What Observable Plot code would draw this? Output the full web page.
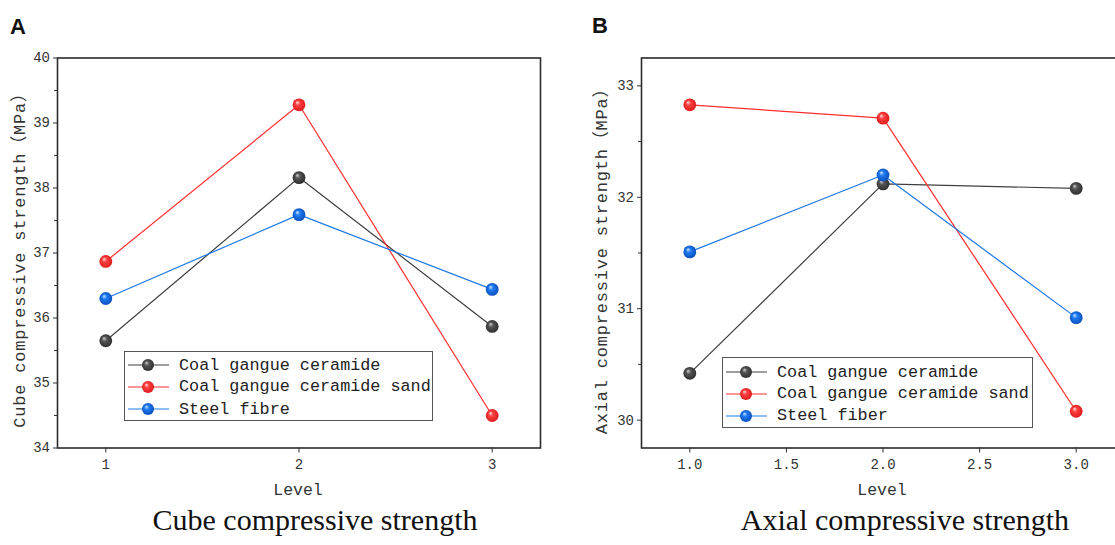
<!DOCTYPE html>
<html>
<head>
<meta charset="utf-8">
<script src="https://cdn.jsdelivr.net/npm/d3@7"></script>
<script src="https://cdn.jsdelivr.net/npm/@observablehq/plot@0.6"></script>
<style>
  html, body { margin: 0; padding: 0; background: #fff; overflow: hidden; }
  #wrap { position: relative; width: 1115px; height: 545px; overflow: hidden; background: #fff; }
  .tag { position: absolute; font-family: "Liberation Sans", Arial, sans-serif; font-weight: bold; font-size: 22px; color: #111; line-height: 1; }
  .cap { position: absolute; font-family: "Liberation Serif", "Times New Roman", serif; font-size: 30px; color: #111; line-height: 1; white-space: nowrap; transform: translateX(-50%); }
  .axlab { position: absolute; font-family: "Liberation Mono", "Noto Sans CJK SC", monospace; font-size: 16.5px; color: #333; line-height: 1; white-space: nowrap; }
  .ylab { font-size: 17px; letter-spacing: 0.8px; }
  .legend { position: absolute; border: 1px solid #555; background: #fff; font-family: "Liberation Mono", monospace; font-size: 16.8px; color: #222; box-sizing: border-box; }
  .legend .row { position: absolute; left: 0; height: 22px; display: flex; align-items: center; white-space: nowrap; }
  .legend svg { display: block; margin-left: 3px; }
  .legend span { margin-left: 9px; }
</style>
</head>
<body>
<div id="wrap"></div>
<script>
// ---------- data ----------
const levels = [1, 2, 3];
const seriesNames = ["Coal gangue ceramide", "Coal gangue ceramide sand"];
const steelNameA = "Steel fibre";
const steelNameB = "Steel fiber";

const cubeCeramide = [35.65, 38.16, 35.87];
const cubeSand     = [36.87, 39.28, 34.50];
const cubeSteel    = [36.30, 37.59, 36.44];

const axialCeramide = [30.42, 32.12, 32.08];
const axialSand     = [32.83, 32.71, 30.08];
const axialSteel    = [31.51, 32.20, 30.92];

const cubeYTicks = [34, 35, 36, 37, 38, 39, 40];
const axialYTicks = [30, 31, 32, 33];
const cubeXTicks = [1, 2, 3];
const axialXTicks = [1.0, 1.5, 2.0, 2.5, 3.0];

const titleA = "A", titleB = "B";
const captionA = "Cube compressive strength";
const captionB = "Axial compressive strength";
const yLabelA = "Cube compressive strength（MPa）";
const yLabelB = "Axial compressive strength（MPa）";
const xLabel = "Level";

// ---------- styling ----------
const lineColors = ["#3f3f3f", "#ff2d2d", "#1f78e6"];
const grads = [
  {id: "gBlack", stops: ["#d0d0d0", "#555555", "#2a2a2a"]},
  {id: "gRed",   stops: ["#ffe0e0", "#ff4040", "#d81818"]},
  {id: "gBlue",  stops: ["#cfe4ff", "#1f7cf0", "#0a4ab8"]}
];

const wrap = document.getElementById("wrap");

// shared gradient defs
const defsSvg = d3.select(wrap).append("svg")
  .attr("width", 0).attr("height", 0)
  .style("position", "absolute").style("left", 0).style("top", 0);
const defs = defsSvg.append("defs");
for (const g of grads) {
  const rg = defs.append("radialGradient").attr("id", g.id)
    .attr("cx", "50%").attr("cy", "50%").attr("r", "55%")
    .attr("fx", "35%").attr("fy", "30%");
  rg.append("stop").attr("offset", "0%").attr("stop-color", g.stops[0]);
  rg.append("stop").attr("offset", "35%").attr("stop-color", g.stops[1]);
  rg.append("stop").attr("offset", "100%").attr("stop-color", g.stops[2]);
}

function toRows(vals) { return levels.map((l, i) => ({level: l, value: vals[i]})); }

function makePanel({series, yDomain, yTicks, yMinor, xTicks, xFmt, left}) {
  const W = 560, H = 520;
  const marks = [];
  series.forEach((vals, i) => {
    marks.push(Plot.line(toRows(vals), {x: "level", y: "value", stroke: lineColors[i], strokeWidth: 1.2}));
  });
  series.forEach((vals, i) => {
    marks.push(Plot.dot(toRows(vals), {x: "level", y: "value", r: 6.4, fill: `url(#${grads[i].id})`, stroke: "none"}));
  });
  marks.push(
    Plot.axisY({ticks: yMinor, tickSize: 3, tickFormat: () => "", label: null, stroke: "#333"}),
    Plot.axisY({ticks: yTicks, tickSize: 4, tickPadding: 3.5, fontSize: 14, tickFormat: d3.format("d"), label: null, stroke: "#333"}),
    Plot.axisX({ticks: xTicks, tickSize: 5, tickPadding: 6, fontSize: 14, tickFormat: xFmt, label: null, stroke: "#333"}),
    Plot.frame({stroke: "#2b2b2b", strokeWidth: 1.6})
  );
  const chart = Plot.plot({
    width: W, height: H,
    marginLeft: 57, marginRight: 20, marginTop: 57.5, marginBottom: 72.5,
    x: {domain: [0.75, 3.25]},
    y: {domain: yDomain},
    style: {fontFamily: "'Liberation Mono', monospace", color: "#333", background: "transparent", overflow: "visible"},
    marks
  });
  chart.style.left = left + "px";
  chart.style.top = "0px";
  chart.style.position = "absolute";
  wrap.appendChild(chart);
}

makePanel({
  series: [cubeCeramide, cubeSand, cubeSteel],
  yDomain: [34, 40], yTicks: cubeYTicks, yMinor: d3.range(34.5, 40, 1),
  xTicks: cubeXTicks, xFmt: d3.format("d"), left: 0
});
makePanel({
  series: [axialCeramide, axialSand, axialSteel],
  yDomain: [29.75, 33.25], yTicks: axialYTicks, yMinor: [30.5, 31.5, 32.5],
  xTicks: axialXTicks, xFmt: d3.format(".1f"), left: 584
});

// tags, captions, axis labels
function addDiv(cls, text, x, y, transform) {
  const d = document.createElement("div");
  d.className = cls; d.textContent = text;
  d.style.left = x + "px"; d.style.top = y + "px";
  if (transform) d.style.transform = transform;
  wrap.appendChild(d);
  return d;
}
addDiv("tag", titleA, 10, 16);
addDiv("tag", titleB, 592, 15);
addDiv("cap", captionA, 315, 505);
addDiv("cap", captionB, 905, 505);

// x labels (centered)
addDiv("axlab", xLabel, 298, 483, "translateX(-50%)");
addDiv("axlab", xLabel, 882, 483, "translateX(-50%)");
// y labels (rotated, centered on given point)
addDiv("axlab ylab", yLabelA, 20, 256, "translate(-50%, -50%) rotate(-90deg)");
addDiv("axlab ylab", yLabelB, 602, 257, "translate(-50%, -50%) rotate(-90deg)");

// legends
function addLegend(names, x, y, w, h, rowYs) {
  const box = document.createElement("div");
  box.className = "legend";
  box.style.left = x + "px"; box.style.top = y + "px";
  box.style.width = w + "px"; box.style.height = h + "px";
  names.forEach((name, i) => {
    const row = document.createElement("div");
    row.className = "row";
    row.style.top = (rowYs[i] - 11) + "px";
    row.innerHTML = `<svg width="42" height="16"><line x1="0" y1="8" x2="41" y2="8" stroke="${lineColors[i]}" stroke-width="1.2"/><circle cx="20" cy="8" r="6" fill="url(#${grads[i].id})"/></svg><span>${name}</span>`;
    box.appendChild(row);
  });
  wrap.appendChild(box);
}
addLegend([...seriesNames, steelNameA], 124, 351, 309, 70, [13.3, 34.8, 57.4]);
addLegend([...seriesNames, steelNameB], 722, 357, 311, 70.5, [14, 35.5, 57.5]);
</script>
</body>
</html>
